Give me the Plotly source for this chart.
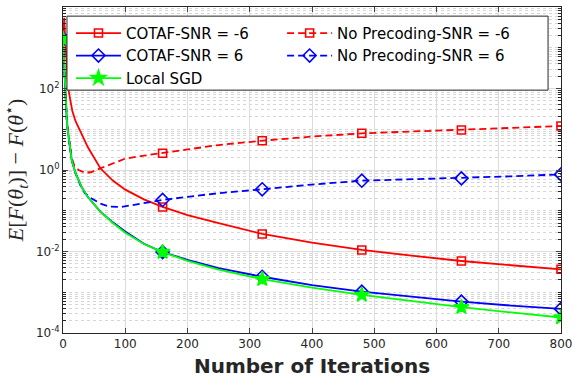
import plotly.graph_objects as go

# ---------------------------------------------------------------------------
# Data
# ---------------------------------------------------------------------------
marker_iters = [0, 160, 320, 480, 640, 800]

cotaf_m6_x = [0, 1, 2, 3, 5, 8, 11, 15, 20, 27, 40, 60, 80, 100, 130, 160,
              200, 250, 320, 400, 480, 560, 640, 720, 800]
cotaf_m6_y = [1640, 4000, 5400, 2500, 500, 110, 60, 28, 16, 9.5, 3.6, 1.1,
              0.55, 0.33, 0.19, 0.124, 0.078, 0.05, 0.0269, 0.0165, 0.0109,
              0.0079, 0.00585, 0.0046, 0.00366]

noprec_m6_x = [0, 2, 4, 6, 8, 10, 14, 18, 25, 35, 45, 60, 80, 100, 130, 160,
               200, 250, 320, 400, 480, 560, 640, 720, 800]
noprec_m6_y = [1640, 250, 50, 18, 8.5, 4.8, 2.0, 1.3, 1.0, 0.86, 0.88, 1.1,
               1.45, 1.9, 2.25, 2.57, 3.2, 4.1, 5.24, 6.6, 7.95, 8.8, 9.6,
               10.8, 12.0]

cotaf_6_x = [0, 1, 2, 3, 4, 6, 8, 10, 14, 20, 30, 40, 60, 80, 100, 130, 160,
             200, 250, 320, 400, 480, 560, 640, 720, 800]
cotaf_6_y = [1640, 800, 250, 100, 50, 18, 8.5, 4.8, 1.76, 0.85, 0.38, 0.217,
             0.095, 0.052, 0.031, 0.0155, 0.0097, 0.0062, 0.0039, 0.0024,
             0.0015, 0.00103, 0.00077, 0.00059, 0.00047, 0.00039]

noprec_6_x = [0, 2, 4, 6, 8, 10, 14, 20, 28, 35, 46, 60, 75, 94, 126, 160,
              200, 250, 320, 400, 480, 560, 640, 720, 800]
noprec_6_y = [1640, 250, 50, 18, 8.5, 4.8, 1.76, 0.85, 0.42, 0.27, 0.20,
              0.15, 0.126, 0.124, 0.15, 0.184, 0.22, 0.27, 0.336, 0.44,
              0.546, 0.59, 0.625, 0.70, 0.78]

local_sgd_x = [0, 1, 2, 3, 4, 6, 8, 10, 14, 20, 30, 40, 60, 80, 100, 130, 160,
               200, 250, 320, 400, 480, 560, 640, 720, 800]
local_sgd_y = [1640, 800, 250, 100, 50, 18, 8.5, 4.8, 1.76, 0.85, 0.38, 0.217,
               0.095, 0.05, 0.029, 0.0153, 0.0097, 0.0059, 0.0036, 0.0021,
               0.0013, 0.00086, 0.0006, 0.00043, 0.00032, 0.00024]

x_ticks = [0, 100, 200, 300, 400, 500, 600, 700, 800]
y_ticks = [1e-4, 1e-2, 1, 1e2, 1e4]
y_ticktext = ["10<sup>-4</sup>", "10<sup>-2</sup>", "10<sup>0</sup>",
              "10<sup>2</sup>", "10<sup>4</sup>"]

RED = "rgb(255,0,0)"
BLUE = "rgb(0,0,255)"
GREEN = "rgb(0,255,0)"
DASH = "7px,4px"

# name, x, y, colour, dash, marker, marker size, legend column
series = [
    ("COTAF-SNR = -6", cotaf_m6_x, cotaf_m6_y, RED, "solid", "square-open", 8, "legend"),
    ("No Precoding-SNR = -6", noprec_m6_x, noprec_m6_y, RED, DASH, "square-open", 8, "legend2"),
    ("COTAF-SNR = 6", cotaf_6_x, cotaf_6_y, BLUE, "solid", "diamond-open", 10, "legend"),
    ("No Precoding-SNR = 6", noprec_6_x, noprec_6_y, BLUE, DASH, "diamond-open", 10, "legend2"),
    ("Local SGD", local_sgd_x, local_sgd_y, GREEN, "solid", "star", 11, "legend"),
]

fig = go.Figure()
for name, xs, ys, color, dash, symbol, msize, leg in series:
    fig.add_trace(go.Scatter(
        x=xs, y=ys, mode="lines", showlegend=False,
        line=dict(color=color, width=1.8, dash=dash),
    ))
    mx = [x for x in xs if x in marker_iters]
    my = [y for x, y in zip(xs, ys) if x in marker_iters]
    fig.add_trace(go.Scatter(
        x=mx, y=my, mode="markers", showlegend=False,
        marker=dict(symbol=symbol, size=msize, color=color,
                    line=dict(color=color, width=1.6)),
    ))
    # legend entry (line + marker)
    fig.add_trace(go.Scatter(
        x=[None], y=[None], mode="lines+markers", name=name, legend=leg,
        line=dict(color=color, width=1.8, dash=dash),
        marker=dict(symbol=symbol, size=msize, color=color,
                    line=dict(color=color, width=1.6)),
    ))

AX = "#262626"
fig.update_xaxes(
    range=[0, 800], tickvals=x_ticks, ticks="inside", ticklen=5,
    showline=True, linecolor=AX, linewidth=1, mirror="ticks",
    showgrid=True, gridcolor="#dcdcdc", zeroline=False, automargin=False,
    tickfont=dict(family="DejaVu Sans", size=12, color=AX),
    title=dict(text="<b>Number of Iterations</b>", standoff=8,
               font=dict(family="DejaVu Sans", size=20, color=AX)),
)
fig.update_yaxes(
    type="log", range=[-4, 4], tickvals=y_ticks, ticktext=y_ticktext,
    ticks="inside", ticklen=5, automargin=False,
    showline=True, linecolor=AX, linewidth=1, mirror="ticks",
    showgrid=True, gridcolor="#dcdcdc", zeroline=False,
    tickfont=dict(family="DejaVu Sans", size=12, color=AX),
    minor=dict(dtick="D1", ticks="inside", ticklen=3, tickcolor=AX,
               showgrid=True, griddash="dot", gridcolor="#d6d6d6"),
)

fig.add_annotation(
    text="<i>E</i>[<i>F</i>(<i>θ<sub>t</sub></i>)] − <i>F</i>(<i>θ</i><sup>⋆</sup>)",
    xref="paper", yref="paper", x=-0.096, y=0.5, textangle=-90,
    showarrow=False, xanchor="center", yanchor="middle",
    font=dict(family="Liberation Serif", size=22, color=AX),
)

# legend frame shared by the two legend columns
fig.add_shape(
    type="rect", xref="paper", yref="paper", layer="above",
    x0=0.008, x1=0.974, y0=0.745, y1=0.972,
    fillcolor="white", line=dict(color=AX, width=1),
)

leg_common = dict(
    xanchor="left", yanchor="top", itemwidth=45, tracegroupgap=0,
    bgcolor="rgba(0,0,0,0)", borderwidth=0,
    font=dict(family="DejaVu Sans", size=15, color="black"),
)
fig.update_layout(
    width=574, height=378,
    margin=dict(l=63, r=13, t=7, b=45),
    plot_bgcolor="white", paper_bgcolor="white",
    legend=dict(x=0.016, y=0.97, **leg_common),
    legend2=dict(x=0.44, y=0.97, **leg_common),
)

fig.write_html("out.html", config={"displayModeBar": False},
               post_script="document.body.style.margin='0px';")
